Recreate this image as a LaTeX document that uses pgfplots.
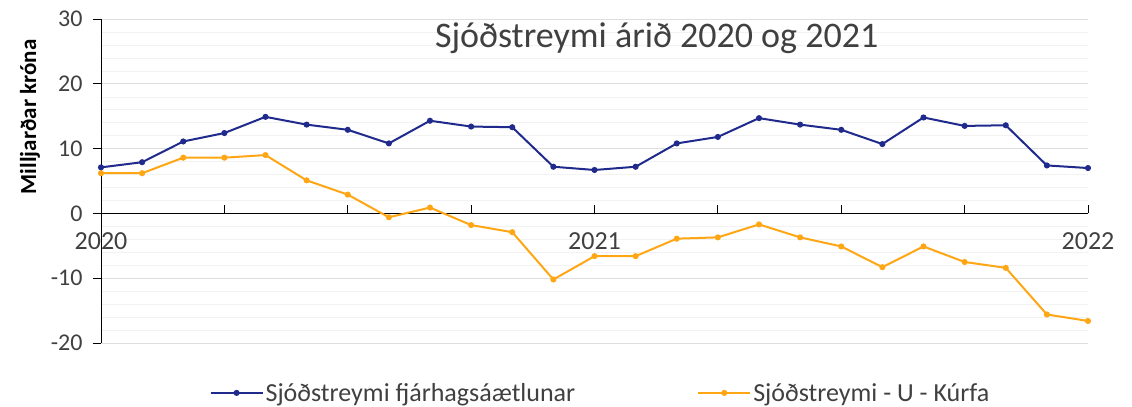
\documentclass[border=0pt]{standalone}
\usepackage{fontspec}
\setmainfont{Carlito}
\usepackage{pgfplots}
\pgfplotsset{compat=1.18}
\definecolor{navyline}{RGB}{31,42,140}
\definecolor{orangeline}{RGB}{255,166,20}
\definecolor{txtgray}{RGB}{64,64,64}
\begin{document}
\begin{tikzpicture}
\begin{axis}[
  name=ax,
  width=987pt, height=324pt, scale only axis,
  xmin=0, xmax=24, ymin=-20, ymax=30,
  axis x line=middle, axis y line=left,
  hide obscured x ticks=false, hide obscured y ticks=false,
  axis line style={-, black, line width=0.8pt},
  every inner x axis line/.append style={-},
  every outer y axis line/.append style={-},
  every inner y axis line/.append style={-},
  ytick={-20,-10,0,10,20,30},
  minor y tick num=4,
  ymajorgrids, yminorgrids,
  major grid style={draw=black!13, line width=0.6pt},
  minor grid style={draw=black!5, line width=0.5pt},
  xtick={0,3,...,24},
  xticklabels={2020,,,,2021,,,,2022},
  xtick align=inside, ytick align=outside,
  major tick length=8pt,
  minor tick length=0pt,
  tick style={black, line width=0.8pt},
  /pgf/number format/assume math mode=true,
  yticklabel style={font=\fontsize{24}{28}\selectfont, text=txtgray, xshift=-7pt},
  xticklabel style={font=\fontsize{26}{30}\selectfont, text=txtgray, yshift=-16pt},
  ylabel={\textbf{Milljarðar króna}},
  ylabel style={font=\fontsize{23}{27}\selectfont, at={(axis description cs:-0.072,0.698)}, anchor=center},
  title={Sjóðstreymi árið 2020 og 2021},
  title style={font=\fontsize{36}{42}\selectfont, text=txtgray, at={(axis description cs:0.563,0.895)}, anchor=base},
  legend style={draw=none, fill=none, at={(axis description cs:0.506,-0.154)}, anchor=center,
    font=\fontsize{26}{30}\selectfont, text=txtgray,
    /tikz/every even column/.append style={column sep=120pt}},
  legend columns=2,
  legend image code/.code={\draw[mark repeat=2,mark phase=2,#1] plot coordinates {(0pt,0pt) (26pt,0pt) (52pt,0pt)};},
  clip=false,
]
\addplot[navyline, line width=2pt, mark=*, mark size=2pt] coordinates {
(0,7.1) (1,7.9) (2,11.1) (3,12.4) (4,14.9) (5,13.7) (6,12.9) (7,10.8) (8,14.3) (9,13.4) (10,13.3) (11,7.2) (12,6.7)
(13,7.2) (14,10.8) (15,11.8) (16,14.7) (17,13.7) (18,12.9) (19,10.7) (20,14.8) (21,13.5) (22,13.6) (23,7.4) (24,7.0)};
\addlegendentry{Sjóðstreymi fjárhagsáætlunar}
\addplot[orangeline, line width=2pt, mark=*, mark size=2pt] coordinates {
(0,6.2) (1,6.2) (2,8.6) (3,8.6) (4,9.0) (5,5.1) (6,2.9) (7,-0.6) (8,0.9) (9,-1.8) (10,-2.9) (11,-10.2) (12,-6.6)
(13,-6.6) (14,-3.9) (15,-3.7) (16,-1.7) (17,-3.7) (18,-5.1) (19,-8.3) (20,-5.1) (21,-7.5) (22,-8.4) (23,-15.6) (24,-16.6)};
\addlegendentry{Sjóðstreymi - U - Kúrfa}
\end{axis}
\pgfresetboundingbox
\path ([shift={(-101pt,-63.3pt)}]ax.south west) rectangle ([shift={(44pt,19pt)}]ax.north east);
\end{tikzpicture}
\end{document}
